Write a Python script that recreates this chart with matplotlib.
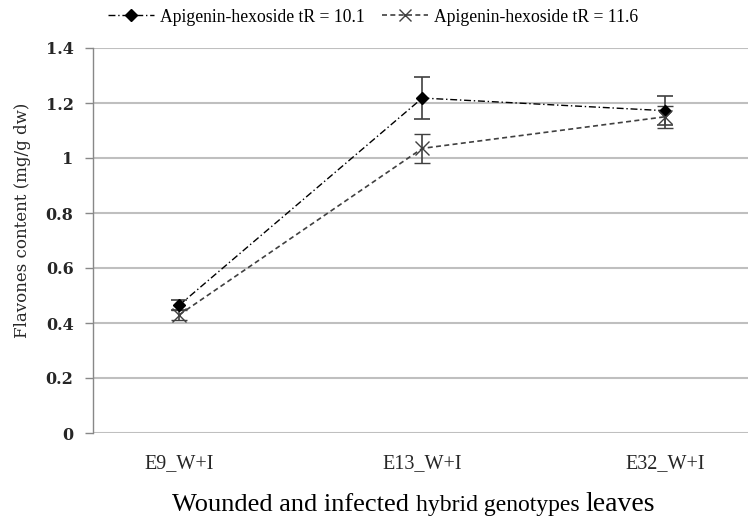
import matplotlib
matplotlib.use("Agg")
import matplotlib.pyplot as plt
from matplotlib.lines import Line2D
import numpy as np

categories = ["E9_W+I", "E13_W+I", "E32_W+I"]
s1_name = "Apigenin-hexoside tR = 10.1"
s2_name = "Apigenin-hexoside tR = 11.6"
s1_vals = [0.465, 1.218, 1.172]
s1_err = [0.018, 0.075, 0.052]
s2_vals = [0.43, 1.035, 1.15]
s2_err = [0.018, 0.052, 0.04]
yticks = [0, 0.2, 0.4, 0.6, 0.8, 1.0, 1.2, 1.4]
ytick_labels = ["0", "0.2", "0.4", "0.6", "0.8", "1", "1.2", "1.4"]
xlabel_parts = [("Wounded and infected", 19), ("hybrid genotypes", 17), ("leaves", 20)]

plt.rcParams['font.family'] = ['Liberation Serif', 'DejaVu Serif']

W, H = 748, 519
fig = plt.figure(figsize=(W/100, H/100), dpi=100)
ax = fig.add_axes([93/W, 1 - 433/H, 1 - 93/W, (433 - 48)/H])

x = np.arange(len(categories))
ls1 = (0, (5, 2, 1, 2))
ls2 = (0, (3, 2))
ax.errorbar(x, s1_vals, yerr=s1_err, color='black', marker='D', markersize=6,
            linestyle=ls1, linewidth=1.0, ecolor='#404040',
            elinewidth=1.2, capsize=6, capthick=1.2, zorder=3)
ax.errorbar(x, s2_vals, yerr=s2_err, color='#404040', marker='x', markersize=10,
            markeredgewidth=1.0, linestyle=ls2, linewidth=1.2,
            ecolor='#404040', elinewidth=1.2, capsize=6, capthick=1.2, zorder=3)

ax.set_xlim(-0.355, 2.34)
ax.set_ylim(0, 1.4)
ax.set_yticks(yticks)
ax.set_yticklabels(ytick_labels, fontsize=11.5, fontweight='bold', color='#262626',
                   family='DejaVu Serif')
ax.set_xticks(x)
ax.set_xticklabels(categories, fontsize=14.5, color='#262626')
ax.tick_params(axis='x', length=0, pad=15)
ax.tick_params(axis='y', length=6, color='#888888', width=1.0, pad=8, direction='out')
ax.yaxis.grid(True, color='#bfbfbf', linewidth=1.5)
ax.set_axisbelow(True)
for s in ['top', 'right', 'bottom']:
    ax.spines[s].set_visible(False)
ax.spines['left'].set_color('#888888')
ax.spines['left'].set_linewidth(1.0)

fig.text(23/W, 1 - 220/H, "Flavones content (mg/g dw)", rotation=90, ha='center',
         va='center', fontsize=12, color='#262626', family='DejaVu Serif')

# x-axis title with mixed sizes
fig.canvas.draw()
renderer = fig.canvas.get_renderer()
xpos = 172
base_y = 1 - 511/H
for txt, fs in xlabel_parts:
    t = fig.text(xpos/W, base_y, txt, fontsize=fs, ha='left', va='baseline', color='black')
    bb = t.get_window_extent(renderer)
    xpos = bb.x1 + fs * 100/72 * 0.25

handles = [Line2D([], [], color='black', marker='D', markersize=6, linestyle=ls1, linewidth=1.0),
           Line2D([], [], color='#404040', marker='x', markersize=9, markeredgewidth=1.0,
                  linestyle=ls2, linewidth=1.2)]
fig.legend(handles, [s1_name, s2_name], loc='center left',
           bbox_to_anchor=(108/W, 1 - 17/H), ncol=2, frameon=False,
           fontsize=12.7, handlelength=2.6, columnspacing=1.0, handletextpad=0.35,
           borderpad=0, borderaxespad=0)

fig.savefig("out.png", dpi=100)
